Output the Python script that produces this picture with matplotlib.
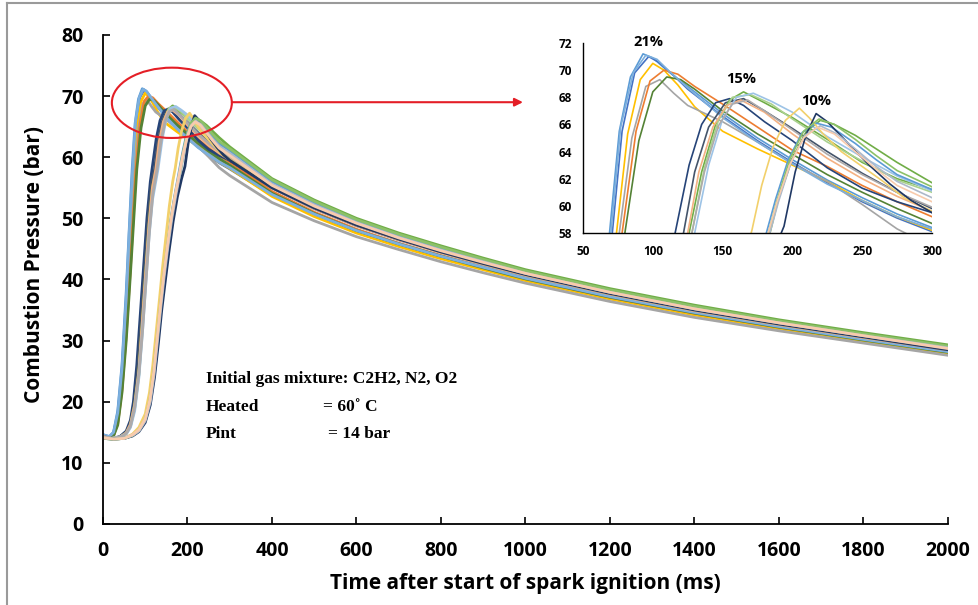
import matplotlib
matplotlib.use("Agg")
import matplotlib.pyplot as plt
from matplotlib.patches import Ellipse
from matplotlib.lines import Line2D

# --- shared time grid for the slow decay part (ms) ---
TAIL_T = [300, 400, 500, 600, 700, 800, 900, 1000, 1200, 1400, 1600, 1800, 2000]

# --- 21 % O2 runs: rise + peak (head) and decay (tail) ---
HEAD_T_21 = [
    [0, 15, 25, 35, 45, 55, 62, 69, 76, 84, 93, 100, 110, 125, 150, 175, 200, 225, 250, 275],
    [0, 15, 25, 35, 45, 55, 63, 71, 78, 87, 97, 104, 115, 125, 150, 175, 200, 225, 250, 275],
    [0, 15, 25, 35, 45, 55, 65, 74, 82, 91, 100, 108, 118, 130, 150, 175, 200, 225, 250, 275],
    [0, 15, 25, 35, 45, 55, 65, 76, 85, 95, 105, 115, 125, 150, 175, 200, 225, 250, 275],
    [0, 15, 25, 35, 45, 55, 65, 78, 88, 98, 108, 118, 130, 150, 175, 200, 225, 250, 275],
    [0, 15, 25, 35, 45, 55, 65, 80, 90, 100, 110, 120, 130, 150, 175, 200, 225, 250, 275],
    [0, 15, 25, 35, 45, 55, 62, 70, 77, 86, 95, 103, 112, 125, 150, 175, 200, 225, 250, 275],
]
HEAD_P_21 = [
    [14.6, 14.3, 15.0, 18.5, 26, 38, 48, 58, 65.5, 69.5, 71.2, 70.9, 70.0, 68.8, 66.8, 65.0, 63.4, 61.9, 60.6, 59.4],
    [14.5, 14.2, 14.8, 17.8, 24.5, 36, 47, 58, 65.5, 69.8, 71.0, 70.6, 69.6, 68.6, 66.6, 64.8, 63.2, 61.7, 60.3, 59.1],
    [14.4, 14.2, 14.6, 17.0, 23, 33, 45, 58, 65.3, 69.3, 70.5, 70.0, 68.9, 67.3, 65.5, 64.2, 63.0, 61.8, 60.4, 59.2],
    [14.4, 14.1, 14.5, 16.8, 22.5, 32, 44, 58, 65, 68.8, 69.3, 68.3, 67.4, 66.2, 64.7, 63.1, 61.8, 60.1, 58.3],
    [14.5, 14.2, 14.5, 16.5, 22, 31, 42, 58, 65.5, 69.2, 70.0, 69.7, 68.8, 67.5, 65.8, 64.1, 62.9, 61.5, 60.3],
    [14.4, 14.1, 14.4, 16.2, 21.5, 30, 41, 58, 64.8, 68.4, 69.5, 69.3, 68.6, 67.0, 65.3, 63.8, 62.3, 61.0, 59.8],
    [14.6, 14.3, 15.0, 18.2, 25.5, 37, 47.5, 58, 65.8, 69.8, 71.1, 70.8, 69.9, 68.7, 66.5, 64.7, 63.1, 61.6, 60.4, 59.2],
]
TAIL_P_21 = [
    [58.4, 54.0, 50.8, 48.1, 45.9, 43.9, 42.1, 40.3, 37.3, 34.7, 32.4, 30.3, 28.3],
    [58.1, 53.8, 50.6, 47.9, 45.7, 43.7, 41.9, 40.1, 37.1, 34.5, 32.2, 30.1, 28.1],
    [58.2, 53.6, 50.3, 47.6, 45.4, 43.4, 41.6, 39.8, 36.8, 34.2, 31.9, 29.9, 27.9],
    [57.0, 52.6, 49.6, 47.0, 44.9, 42.9, 41.1, 39.4, 36.4, 33.8, 31.6, 29.6, 27.6],
    [59.2, 54.4, 51.0, 48.2, 45.9, 43.9, 42.0, 40.2, 37.1, 34.5, 32.2, 30.2, 28.2],
    [58.7, 54.1, 50.8, 48.0, 45.8, 43.8, 41.9, 40.1, 37.1, 34.5, 32.2, 30.1, 28.1],
    [58.3, 53.9, 50.7, 48.0, 45.8, 43.8, 42.0, 40.2, 37.2, 34.6, 32.3, 30.2, 28.2],
]
COLORS_21 = ["#5B9BD5", "#4472C4", "#FFC000", "#A5A5A5", "#ED7D31", "#548235", "#7CAFDD"]

# --- 15 % O2 runs ---
HEAD_T_15 = [
    [0, 20, 40, 55, 65, 72, 80, 88, 96, 104, 112, 118, 126, 135, 145, 155, 165, 180, 200, 225, 250, 275],
    [0, 20, 40, 55, 65, 75, 83, 91, 99, 107, 115, 122, 130, 140, 152, 165, 180, 200, 225, 250, 275],
    [0, 20, 40, 55, 65, 75, 85, 93, 101, 109, 117, 126, 135, 145, 155, 165, 180, 200, 225, 250, 275],
    [0, 20, 40, 55, 65, 75, 85, 93, 101, 109, 117, 128, 137, 147, 157, 170, 185, 200, 225, 250, 275],
    [0, 20, 40, 55, 65, 75, 85, 93, 101, 109, 117, 125, 133, 143, 153, 163, 180, 200, 225, 250, 275],
    [0, 20, 40, 55, 65, 75, 85, 93, 101, 109, 117, 130, 140, 150, 160, 172, 185, 200, 225, 250, 275],
    [0, 20, 40, 55, 65, 75, 85, 94, 102, 110, 118, 128, 137, 147, 157, 168, 180, 200, 225, 250, 275],
]
HEAD_P_15 = [
    [14.3, 14.0, 14.3, 15.2, 17.0, 20, 26, 34, 42, 50, 56, 59, 63, 66, 67.6, 67.9, 67.4, 66.2, 64.8, 62.8, 61.3, 60.3],
    [14.3, 14.0, 14.2, 15.0, 16.5, 20, 26, 34, 42, 50, 56, 58, 62.5, 65.8, 67.6, 67.9, 67.0, 65.7, 64.0, 62.4, 61.0],
    [14.2, 14.0, 14.2, 14.9, 16.2, 19.5, 25, 33, 41, 49, 55, 58, 62.5, 66.0, 67.8, 68.4, 67.6, 66.5, 64.9, 63.2, 62.0],
    [14.2, 14.0, 14.2, 14.8, 16.0, 19, 24.5, 32, 40, 48, 54, 58, 62.8, 66.3, 68.0, 68.2, 67.5, 66.4, 64.7, 63.3, 61.9],
    [14.3, 14.0, 14.2, 14.9, 16.3, 19.5, 25, 33, 41, 49, 55, 58, 62.5, 65.8, 67.4, 67.8, 66.9, 65.3, 63.5, 62.0, 60.7],
    [14.2, 14.0, 14.2, 14.7, 15.8, 18.5, 24, 31, 39, 47, 53, 58, 63, 66.4, 68.0, 68.3, 67.7, 66.9, 65.1, 63.6, 62.2],
    [14.3, 14.0, 14.2, 14.8, 16.0, 19, 24.5, 32, 40, 48, 54, 58, 62.5, 65.9, 67.5, 67.8, 67.0, 65.6, 63.8, 62.3, 61.0],
]
TAIL_P_15 = [
    [59.5, 55.0, 51.6, 48.8, 46.5, 44.5, 42.6, 40.8, 37.7, 35.0, 32.7, 30.6, 28.6],
    [59.8, 55.2, 51.8, 49.0, 46.7, 44.6, 42.7, 40.9, 37.8, 35.1, 32.8, 30.7, 28.6],
    [61.2, 56.0, 52.5, 49.6, 47.2, 45.1, 43.2, 41.3, 38.2, 35.5, 33.1, 31.0, 29.0],
    [61.0, 55.8, 52.3, 49.4, 47.0, 44.9, 43.0, 41.1, 38.0, 35.3, 32.9, 30.8, 28.8],
    [59.6, 55.0, 51.6, 48.8, 46.5, 44.4, 42.5, 40.7, 37.6, 34.9, 32.6, 30.5, 28.5],
    [61.1, 55.9, 52.4, 49.5, 47.1, 45.0, 43.1, 41.2, 38.1, 35.4, 33.0, 30.9, 28.9],
    [59.9, 55.2, 51.8, 49.0, 46.7, 44.6, 42.7, 40.9, 37.8, 35.1, 32.8, 30.7, 28.7],
]
COLORS_15 = ["#264478", "#44546A", "#70AD47", "#A9D18E", "#F4B183", "#9DC3E6", "#AEAAAA"]

# --- 10 % O2 runs ---
HEAD_T_10 = [
    [0, 25, 50, 70, 85, 100, 111, 120, 128, 136, 143, 152, 162, 172, 182, 190, 200, 210, 220, 230, 245, 260, 275],
    [0, 25, 50, 70, 85, 100, 111, 120, 128, 136, 143, 152, 162, 172, 180, 188, 197, 207, 217, 228, 245, 260, 275],
    [0, 25, 50, 70, 85, 100, 110, 118, 126, 134, 141, 149, 157, 165, 171, 178, 186, 195, 205, 212, 222, 235, 250, 265, 280],
    [0, 25, 50, 70, 85, 100, 112, 122, 131, 139, 147, 156, 166, 176, 186, 194, 202, 210, 217, 225, 240, 255, 270, 285],
    [0, 25, 50, 70, 85, 100, 111, 120, 128, 136, 143, 152, 162, 172, 181, 189, 198, 208, 219, 230, 245, 260, 275],
    [0, 25, 50, 70, 85, 100, 112, 121, 129, 137, 144, 153, 163, 173, 182, 190, 199, 209, 220, 232, 245, 260, 275],
    [0, 25, 50, 70, 85, 100, 111, 120, 128, 136, 143, 152, 162, 172, 181, 189, 198, 208, 218, 230, 245, 260, 275],
]
HEAD_P_10 = [
    [14.0, 13.9, 14.0, 14.5, 15.3, 17, 20, 24.5, 30, 35.5, 40, 45, 50, 54, 57.2, 60.5, 63.5, 65.5, 66.3, 66.0, 65.2, 64.2, 63.2],
    [14.1, 13.9, 14.0, 14.6, 15.5, 17.4, 20.5, 25, 30.5, 36, 40.5, 45.5, 50.5, 54.5, 57.5, 60.5, 63.4, 65.4, 66.1, 65.8, 64.6, 63.4, 62.3],
    [14.1, 13.9, 14.0, 14.7, 15.8, 18, 21.5, 26, 31.5, 37, 42, 47, 52, 56, 58.2, 61.5, 64.3, 66.3, 67.2, 66.5, 65.3, 64.0, 62.9, 61.8, 60.6],
    [14.0, 13.9, 14.0, 14.4, 15.1, 16.6, 19.5, 24, 29.5, 35, 39.5, 44.5, 49.5, 53.5, 56.5, 58.5, 62.5, 65.3, 66.8, 66.2, 64.6, 63.0, 61.6, 60.4],
    [14.0, 13.9, 14.0, 14.5, 15.3, 17.1, 20.2, 24.8, 30.2, 35.7, 40.2, 45.2, 50.2, 54.2, 57.3, 60.4, 63.4, 65.5, 66.4, 66.0, 64.9, 63.7, 62.6],
    [14.1, 13.9, 14.0, 14.5, 15.2, 16.9, 20, 24.5, 30, 35.5, 40, 45, 50, 54, 57.3, 60.3, 63.2, 65.2, 65.9, 65.3, 64.2, 62.9, 61.8],
    [14.1, 13.9, 14.0, 14.6, 15.4, 17.2, 20.3, 24.8, 30.3, 35.8, 40.3, 45.3, 50.3, 54.3, 57.4, 60.3, 63.0, 65.0, 65.8, 65.3, 64.0, 62.7, 61.5],
]
TAIL_P_10 = [
    [61.7, 56.5, 53.0, 50.0, 47.6, 45.5, 43.5, 41.6, 38.5, 35.8, 33.4, 31.3, 29.3],
    [61.2, 56.1, 52.6, 49.7, 47.3, 45.2, 43.2, 41.3, 38.2, 35.5, 33.1, 31.0, 29.0],
    [59.6, 55.2, 51.8, 49.0, 46.7, 44.6, 42.6, 40.8, 37.7, 35.0, 32.7, 30.6, 28.6],
    [59.5, 55.0, 51.7, 48.9, 46.6, 44.5, 42.6, 40.8, 37.7, 35.0, 32.7, 30.6, 28.5],
    [61.4, 56.3, 52.8, 49.8, 47.4, 45.3, 43.3, 41.4, 38.3, 35.6, 33.2, 31.1, 29.1],
    [60.6, 55.6, 52.2, 49.3, 46.9, 44.8, 42.9, 41.0, 37.9, 35.2, 32.9, 30.8, 28.8],
    [60.3, 55.4, 52.0, 49.2, 46.8, 44.7, 42.8, 41.0, 37.9, 35.2, 32.9, 30.8, 28.7],
]
COLORS_10 = ["#70AD47", "#5B9BD5", "#F2D06B", "#203864", "#8CC168", "#ADB9CA", "#F8CBAD"]

GROUP_LABELS = ["21%", "15%", "10%"]
GROUP_LABEL_POS = [(97, 72.1), (163, 69.35), (217, 67.7)]

SANS = "Open Sans"
SERIF = ["Liberation Serif", "DejaVu Serif"]

groups = [
    (HEAD_T_21, HEAD_P_21, TAIL_P_21, COLORS_21),
    (HEAD_T_15, HEAD_P_15, TAIL_P_15, COLORS_15),
    (HEAD_T_10, HEAD_P_10, TAIL_P_10, COLORS_10),
]

fig = plt.figure(figsize=(9.79, 6.05), dpi=100)
ax = fig.add_axes([0.1052, 0.1339, 0.8631, 0.8083])
axin = fig.add_axes([0.5955, 0.6149, 0.3565, 0.3140])

for head_t, head_p, tail_p, colors in groups:
    for ht, hp, tp, c in zip(head_t, head_p, tail_p, colors):
        t = ht + TAIL_T
        p = hp + tp
        ax.plot(t, p, color=c, lw=2.0, solid_joinstyle="round")
        axin.plot(t, p, color=c, lw=1.2)

# --- main axes styling ---
ax.set_xlim(0, 2000)
ax.set_ylim(0, 80)
ax.set_xticks(range(0, 2001, 200))
ax.set_yticks(range(0, 81, 10))
for s in ["top", "right"]:
    ax.spines[s].set_visible(False)
for s in ["left", "bottom"]:
    ax.spines[s].set_linewidth(1.3)
ax.tick_params(axis="both", direction="in", length=5, width=1.2)
ax.tick_params(axis="x", pad=12)
ax.tick_params(axis="y", pad=14)
for lab in ax.get_xticklabels() + ax.get_yticklabels():
    lab.set_fontfamily(SANS)
    lab.set_fontweight("bold")
    lab.set_fontsize(14)
ax.set_xlabel("Time after start of spark ignition (ms)", fontfamily=SANS,
              fontweight="bold", fontsize=15, labelpad=9)
ax.set_ylabel("Combustion Pressure (bar)", fontfamily=SANS,
              fontweight="bold", fontsize=15)
ax.yaxis.set_label_coords(-0.069, 0.53)

# red ellipse + arrow toward the zoom panel
ax.add_patch(Ellipse((163, 68.9), 284, 11.5, fill=False, ec="#E41E26", lw=1.5, zorder=5))
ax.annotate("", xy=(994, 69.0), xytext=(305, 69.0),
            arrowprops=dict(arrowstyle="-|>", color="#E41E26", lw=1.5,
                            mutation_scale=12, shrinkA=0, shrinkB=0))

# conditions text
FS_NOTE = 12.5
ax.text(243, 23.8, "Initial gas mixture: C2H2, N2, O2", fontfamily=SERIF,
        fontweight="bold", fontsize=FS_NOTE, va="center")
ax.text(243, 19.1, "Heated", fontfamily=SERIF, fontweight="bold", fontsize=FS_NOTE, va="center")
ax.text(520, 19.1, "= 60˚ C", fontfamily=SERIF, fontweight="bold", fontsize=FS_NOTE, va="center")
ax.text(243, 14.7, "Pint", fontfamily=SERIF, fontweight="bold", fontsize=FS_NOTE, va="center")
ax.text(532, 14.7, "= 14 bar", fontfamily=SERIF, fontweight="bold", fontsize=FS_NOTE, va="center")

# --- inset styling ---
axin.set_xlim(50, 300)
axin.set_ylim(58, 72)
axin.set_xticks(range(50, 301, 50))
axin.set_yticks(range(58, 73, 2))
axin.set_facecolor("white")
for s in ["top", "right"]:
    axin.spines[s].set_visible(False)
for s in ["left", "bottom"]:
    axin.spines[s].set_linewidth(1.0)
axin.tick_params(axis="both", length=0)
axin.tick_params(axis="x", pad=9)
axin.tick_params(axis="y", pad=8)
for lab in axin.get_xticklabels() + axin.get_yticklabels():
    lab.set_fontfamily(SANS)
    lab.set_fontweight("bold")
    lab.set_fontsize(8.5)
for lbl, (x, y) in zip(GROUP_LABELS, GROUP_LABEL_POS):
    axin.text(x, y, lbl, fontfamily=SANS, fontweight="bold", fontsize=10.5,
              ha="center", va="center", clip_on=False)

# thin grey frame at top and left like the screenshot
fig.add_artist(Line2D([7 / 979, 1], [1 - 3 / 605, 1 - 3 / 605], color="#9a9a9a", lw=1.5))
fig.add_artist(Line2D([7 / 979, 7 / 979], [0, 1 - 3 / 605], color="#9a9a9a", lw=1.5))

fig.savefig("out.png", dpi=100)
